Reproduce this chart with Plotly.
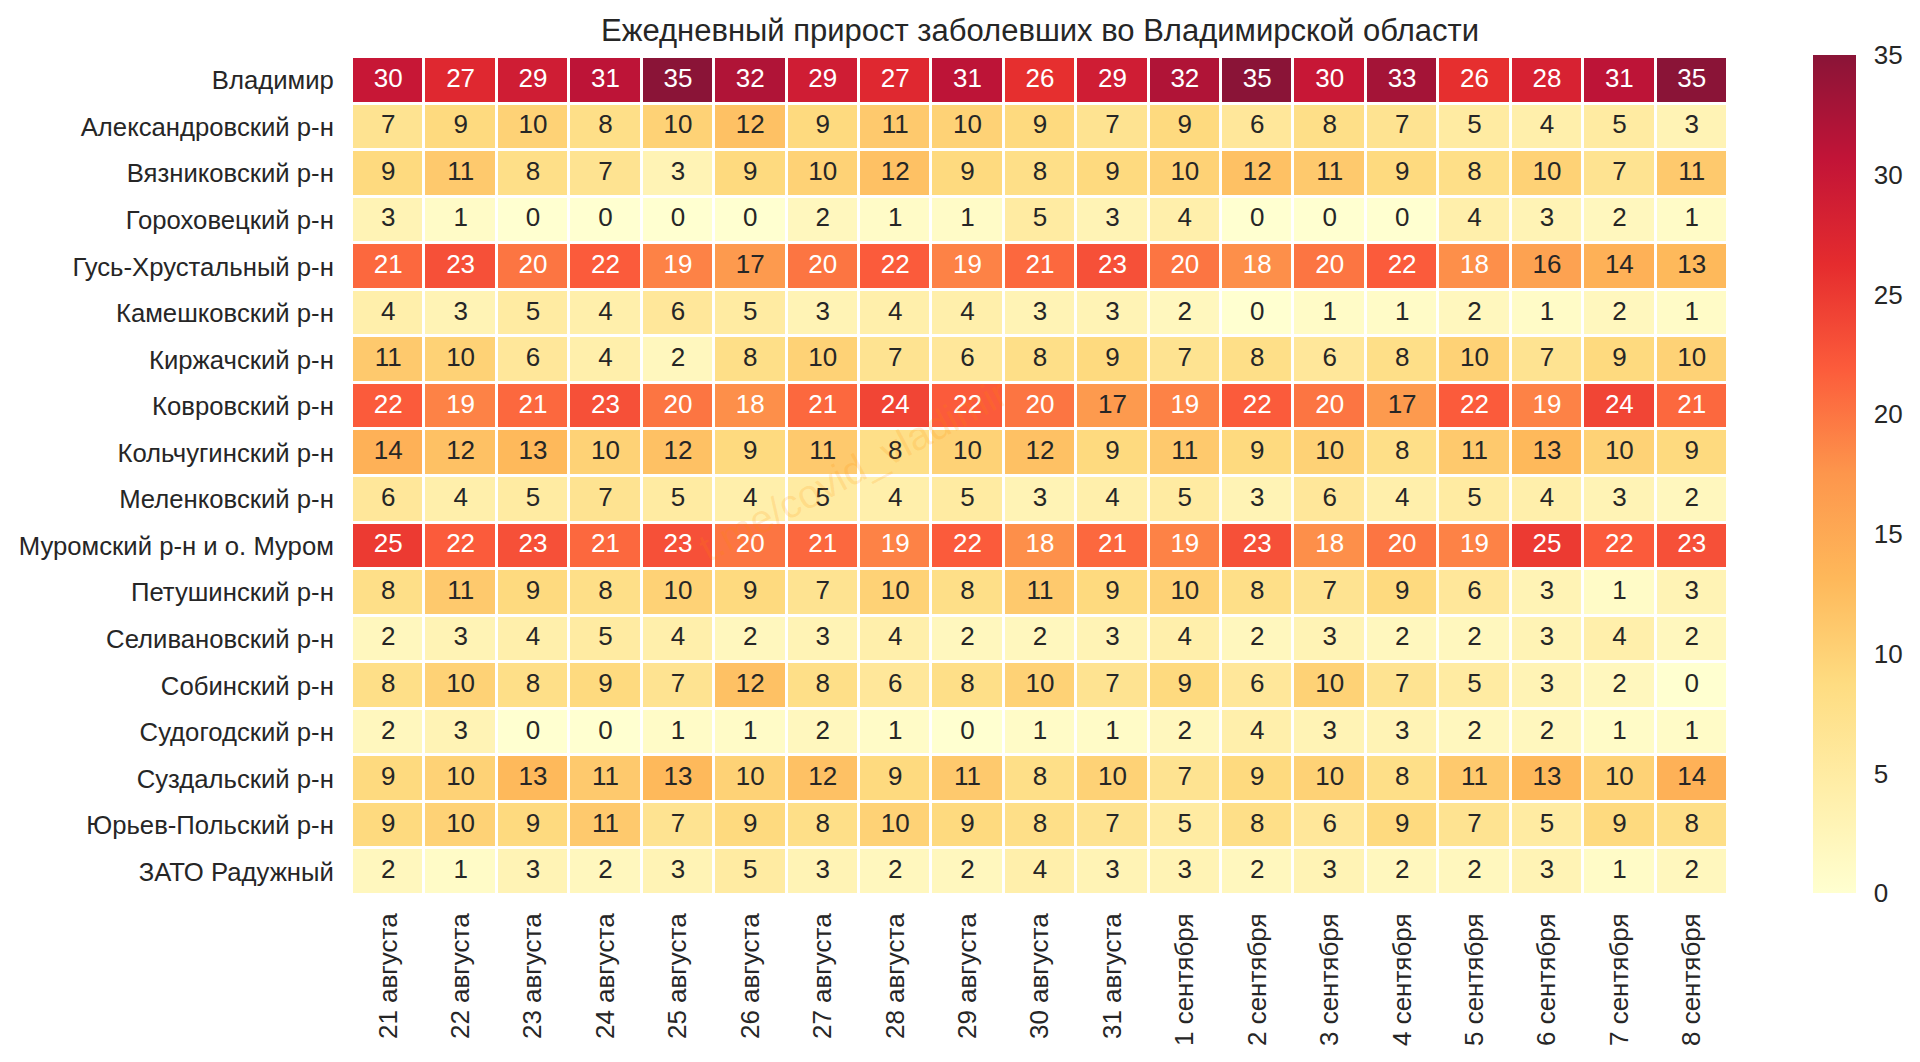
import plotly.graph_objects as go

districts = ["Владимир", "Александровский р-н", "Вязниковский р-н", "Гороховецкий р-н",
             "Гусь-Хрустальный р-н", "Камешковский р-н", "Киржачский р-н", "Ковровский р-н",
             "Кольчугинский р-н", "Меленковский р-н", "Муромский р-н и о. Муром",
             "Петушинский р-н", "Селивановский р-н", "Собинский р-н", "Судогодский р-н",
             "Суздальский р-н", "Юрьев-Польский р-н", "ЗАТО Радужный"]
dates = ["21 августа", "22 августа", "23 августа", "24 августа", "25 августа", "26 августа",
         "27 августа", "28 августа", "29 августа", "30 августа", "31 августа",
         "1 сентября", "2 сентября", "3 сентября", "4 сентября", "5 сентября",
         "6 сентября", "7 сентября", "8 сентября"]

vladimir = [30, 27, 29, 31, 35, 32, 29, 27, 31, 26, 29, 32, 35, 30, 33, 26, 28, 31, 35]
aleksandrov = [7, 9, 10, 8, 10, 12, 9, 11, 10, 9, 7, 9, 6, 8, 7, 5, 4, 5, 3]
vyazniki = [9, 11, 8, 7, 3, 9, 10, 12, 9, 8, 9, 10, 12, 11, 9, 8, 10, 7, 11]
gorokhovets = [3, 1, 0, 0, 0, 0, 2, 1, 1, 5, 3, 4, 0, 0, 0, 4, 3, 2, 1]
gus = [21, 23, 20, 22, 19, 17, 20, 22, 19, 21, 23, 20, 18, 20, 22, 18, 16, 14, 13]
kameshkovo = [4, 3, 5, 4, 6, 5, 3, 4, 4, 3, 3, 2, 0, 1, 1, 2, 1, 2, 1]
kirzhach = [11, 10, 6, 4, 2, 8, 10, 7, 6, 8, 9, 7, 8, 6, 8, 10, 7, 9, 10]
kovrov = [22, 19, 21, 23, 20, 18, 21, 24, 22, 20, 17, 19, 22, 20, 17, 22, 19, 24, 21]
kolchugino = [14, 12, 13, 10, 12, 9, 11, 8, 10, 12, 9, 11, 9, 10, 8, 11, 13, 10, 9]
melenki = [6, 4, 5, 7, 5, 4, 5, 4, 5, 3, 4, 5, 3, 6, 4, 5, 4, 3, 2]
murom = [25, 22, 23, 21, 23, 20, 21, 19, 22, 18, 21, 19, 23, 18, 20, 19, 25, 22, 23]
petushki = [8, 11, 9, 8, 10, 9, 7, 10, 8, 11, 9, 10, 8, 7, 9, 6, 3, 1, 3]
selivanovo = [2, 3, 4, 5, 4, 2, 3, 4, 2, 2, 3, 4, 2, 3, 2, 2, 3, 4, 2]
sobinka = [8, 10, 8, 9, 7, 12, 8, 6, 8, 10, 7, 9, 6, 10, 7, 5, 3, 2, 0]
sudogda = [2, 3, 0, 0, 1, 1, 2, 1, 0, 1, 1, 2, 4, 3, 3, 2, 2, 1, 1]
suzdal = [9, 10, 13, 11, 13, 10, 12, 9, 11, 8, 10, 7, 9, 10, 8, 11, 13, 10, 14]
yuryev = [9, 10, 9, 11, 7, 9, 8, 10, 9, 8, 7, 5, 8, 6, 9, 7, 5, 9, 8]
raduzhny = [2, 1, 3, 2, 3, 5, 3, 2, 2, 4, 3, 3, 2, 3, 2, 2, 3, 1, 2]

rows = [vladimir, aleksandrov, vyazniki, gorokhovets, gus, kameshkovo, kirzhach, kovrov,
        kolchugino, melenki, murom, petushki, selivanovo, sobinka, sudogda, suzdal, yuryev, raduzhny]

title = "Ежедневный прирост заболевших во Владимирской области"
watermark = "t.me/covid_vladimir"

ylorrd = ["#ffffcc", "#ffeda0", "#fed976", "#feb24c", "#fd8d3c", "#fc4e2a", "#e31a1c", "#bd0026", "#800026"]
ALPHA = 0.92

def soften(h):
    c = [int(h[i:i + 2], 16) for i in (1, 3, 5)]
    return "rgb(%d,%d,%d)" % tuple(round(v * ALPHA + 255 * (1 - ALPHA)) for v in c)

scale = [[i / (len(ylorrd) - 1), soften(h)] for i, h in enumerate(ylorrd)]

W, H = 1920, 1062
L, R, T, B = 352, 1728, 57, 895
FONT = "Liberation Sans"
DARK = "#262626"

fig = go.Figure()
fig.add_trace(go.Heatmap(
    z=rows, x=dates, y=districts, zmin=0, zmax=35, colorscale=scale,
    xgap=3, ygap=3, hoverinfo="skip",
    colorbar=dict(
        xref="container", yref="container",
        x=1813 / W, xanchor="left", xpad=0, ypad=0,
        y=(H - 601) / H, yanchor="middle", thickness=43, thicknessmode="pixels",
        len=838, lenmode="pixels", outlinewidth=0,
        tick0=0, dtick=5, ticks="outside", ticklen=13, tickcolor="rgba(0,0,0,0)",
        tickfont=dict(family=FONT, size=26, color=DARK),
    ),
))

tx, ty, tt, tc = [], [], [], []
for name, row in zip(districts, rows):
    for d, v in zip(dates, row):
        tx.append(d); ty.append(name); tt.append(str(v))
        tc.append("white" if v >= 18 else DARK)
fig.add_trace(go.Scatter(
    x=tx, y=ty, text=tt, mode="text", textposition="middle center",
    textfont=dict(family=FONT, size=26, color=tc), hoverinfo="skip", showlegend=False,
))

fig.update_layout(
    width=W, height=H, autosize=False,
    margin=dict(l=L, r=W - R, t=T, b=H - B, pad=0),
    paper_bgcolor="white", plot_bgcolor="white",
    showlegend=False,
    title=dict(text=title, x=1040 / W, xanchor="center",
               y=1 - 30 / H, yanchor="middle",
               font=dict(family=FONT, size=31, color=DARK)),
    annotations=[dict(text=watermark, xref="paper", yref="paper",
                      x=(853 - L) / (R - L), y=(B - 470) / (B - T),
                      showarrow=False, textangle=-28,
                      font=dict(family=FONT, size=40, color="rgba(255,140,0,0.16)"))],
)
fig.update_xaxes(type="category", categoryorder="array", categoryarray=dates, tickangle=-90,
                 range=[-0.5, len(dates) - 0.5],
                 ticks="outside", ticklen=7, tickcolor="rgba(0,0,0,0)", showgrid=False,
                 zeroline=False, showline=False,
                 tickfont=dict(family=FONT, size=26, color=DARK))
fig.update_yaxes(type="category", categoryorder="array", categoryarray=districts,
                 range=[len(districts) - 0.5, -0.5],
                 ticks="outside", ticklen=12, tickcolor="rgba(0,0,0,0)", showgrid=False,
                 zeroline=False, showline=False,
                 tickfont=dict(family=FONT, size=25.7, color=DARK))

fig.write_html("out.html", post_script="document.body.style.margin='0';",
               config={"displayModeBar": False, "responsive": False})
